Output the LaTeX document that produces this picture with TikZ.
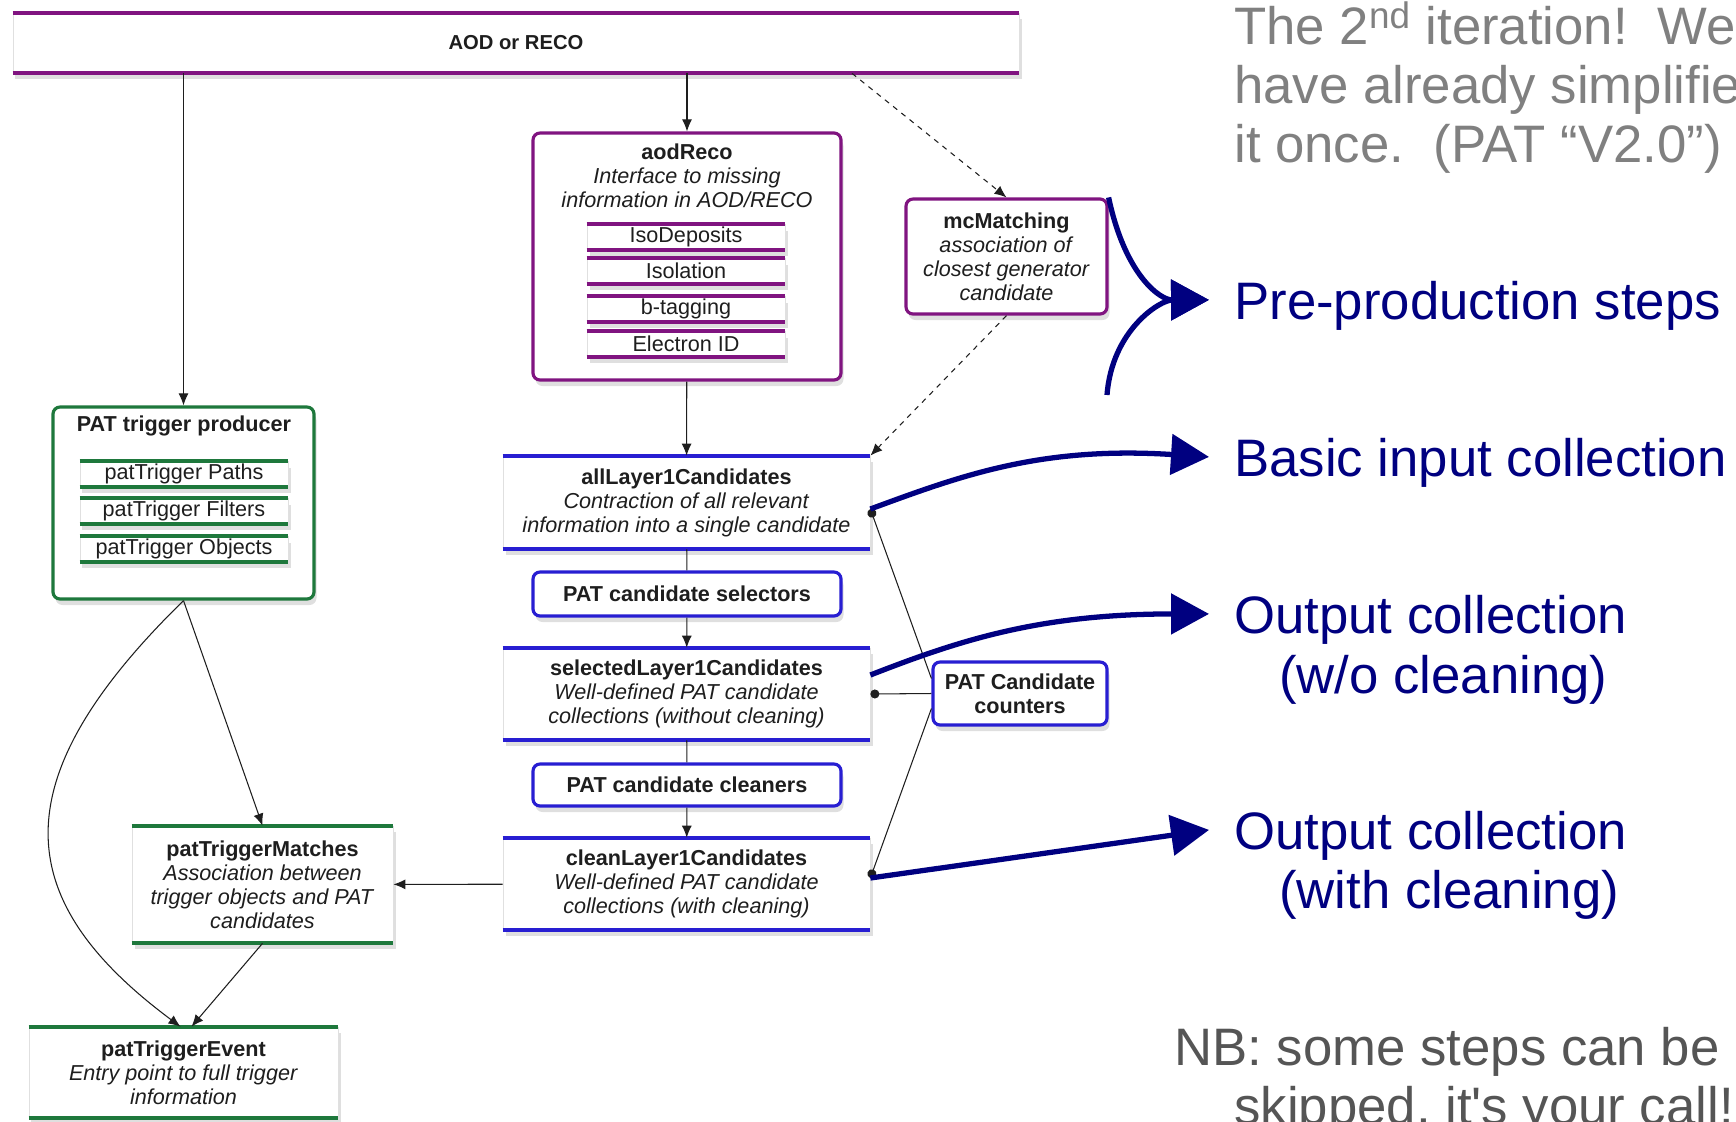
\documentclass[tikz,border=0pt]{standalone}
\usepackage{fontspec}
\setmainfont{Liberation Sans}
\usepackage{tikz}
\usetikzlibrary{arrows.meta,positioning,calc,shadows}
\definecolor{aodPurple}{RGB}{128,20,128}
\definecolor{trigGreen}{RGB}{30,120,60}
\definecolor{candBlue}{RGB}{40,30,210}
\definecolor{noteNavy}{RGB}{0,0,128}
\definecolor{noteGray}{RGB}{128,128,128}
\definecolor{nbGray}{RGB}{85,85,85}
\definecolor{boxInk}{RGB}{30,30,30}
\tikzset{
  box font/.style={font=\fontsize{12.3}{13.6}\selectfont,align=center,text=boxInk},
  soft shadow/.style={drop shadow={shadow xshift=0.5mm,shadow yshift=-1.2mm,opacity=0.25}},
  bar box/.style={box font,fill=white,draw=black!12,inner sep=0pt,soft shadow,
    append after command={(\tikzlastnode.north west) edge[draw=#1,line width=2.3pt] (\tikzlastnode.north east)
      (\tikzlastnode.south west) edge[draw=#1,line width=2.3pt] (\tikzlastnode.south east)}},
  sub box/.style={bar box=#1,minimum height=5mm},
  round box/.style={box font,fill=white,draw=#1,line width=1.8pt,rounded corners=4pt,soft shadow},
  flow line/.style={draw=boxInk,line width=0.6pt},
  flow arrow/.style={flow line,-{Latex[length=2.4mm,width=2mm]}},
  flow dashed/.style={flow arrow,dashed},
  count line/.style={flow line,{Circle[length=1.8mm]}-},
  note arrow/.style={draw=noteNavy,line width=3pt,-{Triangle[length=7.6mm,width=8mm]}},
  note text/.style={font=\fontsize{30}{34}\selectfont,inner sep=0pt,anchor=base west},
  note label/.style={note text,text=noteNavy,inner xsep=5mm,text depth=0pt}
}

\begin{document}
\begin{tikzpicture}[x=0.2mm,y=-0.2mm]
  \useasboundingbox (0,0) rectangle (1736,1121);
  \clip (0,0) rectangle (1736,1121);

  % input and pre-production steps
  \node[bar box=aodPurple,minimum width=201.2mm,minimum height=12mm,font=\fontsize{11.5}{13.5}\selectfont\bfseries] (aod) at (516,43) {AOD or RECO};
  \node[round box=aodPurple,minimum width=61.6mm,minimum height=49.4mm] (aodreco) at (687,256.5) {};
  \node[box font] (aodrecotxt) at (687,176) {\textbf{aodReco}\\\textit{Interface to missing}\\\textit{information in AOD/RECO}};
  \node[sub box=aodPurple,minimum width=39.6mm] (isodeposits) at (686,237) {IsoDeposits};
  \node[sub box=aodPurple,minimum width=39.6mm] (isolation) at (686,271) {Isolation};
  \node[sub box=aodPurple,minimum width=39.6mm] (btagging) at (686,309) {b-tagging};
  \node[sub box=aodPurple,minimum width=39.6mm] (electronid) at (686,344) {Electron ID};
  \node[round box=aodPurple,minimum width=40.2mm,minimum height=23mm] (mc) at (1006.5,256.5) {\textbf{mcMatching}\\\textit{association of}\\\textit{closest generator}\\\textit{candidate}};

  % trigger branch
  \node[round box=trigGreen,minimum width=52.2mm,minimum height=38.4mm] (trigger) at (183.5,503) {};
  \node[box font] (triggertxt) at (184,426) {\textbf{PAT trigger producer}};
  \node[sub box=trigGreen,minimum width=41.6mm] (trigpaths) at (184,474) {patTrigger Paths};
  \node[sub box=trigGreen,minimum width=41.6mm] (trigfilters) at (184,511) {patTrigger Filters};
  \node[sub box=trigGreen,minimum width=41.6mm] (trigobjects) at (184,549) {patTrigger Objects};
  \node[bar box=trigGreen,minimum width=52.2mm,minimum height=23.4mm] (matches) at (262.5,884.5) {\textbf{patTriggerMatches}\\\textit{Association between}\\\textit{trigger objects and PAT}\\\textit{candidates}};
  \node[bar box=trigGreen,minimum width=61.8mm,minimum height=18.2mm] (event) at (183.5,1072.5) {\textbf{patTriggerEvent}\\\textit{Entry point to full trigger}\\\textit{information}};

  % candidate chain
  \node[bar box=candBlue,minimum width=73.4mm,minimum height=18.6mm] (all) at (686.5,502.5) {\textbf{allLayer1Candidates}\\\textit{Contraction of all relevant}\\\textit{information into a single candidate}};
  \node[round box=candBlue,minimum width=61.6mm,minimum height=8.8mm] (selectors) at (687,594) {\textbf{PAT candidate selectors}};
  \node[bar box=candBlue,minimum width=73.4mm,minimum height=18.4mm] (selected) at (686.5,694) {\textbf{selectedLayer1Candidates}\\\textit{Well-defined PAT candidate}\\\textit{collections (without cleaning)}};
  \node[round box=candBlue,minimum width=61.6mm,minimum height=8.4mm] (cleaners) at (687,785) {\textbf{PAT candidate cleaners}};
  \node[bar box=candBlue,minimum width=73.4mm,minimum height=18.4mm] (clean) at (686.5,884) {\textbf{cleanLayer1Candidates}\\\textit{Well-defined PAT candidate}\\\textit{collections (with cleaning)}};
  \node[round box=candBlue,minimum width=34.8mm,minimum height=12.6mm] (counters) at (1020,693.5) {\textbf{PAT Candidate}\\\textbf{counters}};

  \draw[flow arrow] (aod.south -| trigger.north) -- (trigger.north);
  \draw[flow arrow] (aod.south -| aodreco.north) -- (aodreco.north);
  \draw[flow dashed] ([xshift=67.2mm]aod.south) -- (mc.north);
  \draw[flow arrow] (aodreco) -- (all);
  \draw[flow dashed] (mc.south) -- (all.north east);
  \draw[flow line] (all) -- (selectors);
  \draw[flow arrow] (selectors) -- (selected);
  \draw[flow line] (selected) -- (cleaners);
  \draw[flow arrow] (cleaners) -- (clean);
  \draw[flow arrow] (clean) -- (matches);
  \draw[flow arrow] (trigger.south) -- (matches.north);
  \draw[flow arrow] (trigger.south) .. controls (0,780) and (10,900) .. ([xshift=-0.6mm]event.north);
  \draw[flow arrow] (matches.south) -- ([xshift=1.6mm]event.north);

  \coordinate (alldot) at ([yshift=-1.3mm]all.east);
  \coordinate (cleandot) at ([yshift=1.2mm]clean.east);
  \draw[count line] (alldot) -- ([yshift=3mm]counters.west);
  \draw[count line] (selected.east) -- (counters.west);
  \draw[count line] (cleandot) -- ([yshift=-3mm]counters.west);

  % notes on the right
  \node[note text,text=noteGray] (iter1) at (1234,44) {The 2\textsuperscript{nd} iteration!\ \ We};
  \node[note text,text=noteGray] (iter2) at (1234,103) {have already simplified};
  \node[note text,text=noteGray] (iter3) at (1234,162) {it once.\ \ (PAT “V2.0”)};
  \node[note label] (preprod) at (1209,319) {Pre-production steps};
  \node[note label] (basic) at (1209,476) {Basic input collection};
  \node[note label] (outwo) at (1209,633) {Output collection};
  \node[note text,text=noteNavy] (outwo2) at (1279,693) {(w/o cleaning)};
  \node[note label] (outwith) at (1209,849) {Output collection};
  \node[note text,text=noteNavy] (outwith2) at (1279,908) {(with cleaning)};
  \node[note text,text=nbGray] (nb1) at (1174,1065) {NB: some steps can be};
  \node[note text,text=nbGray] (nb2) at (1234,1124) {skipped, it\textquotesingle s your call!};

  \coordinate (ppbottom) at (1107,395);
  \draw[note arrow] (mc.north east) .. controls (1125,275) and (1160,300) .. (preprod.west);
  \draw[note arrow] (ppbottom) .. controls (1112,330) and (1160,300) .. (preprod.west);
  \draw[note arrow] (alldot) .. controls (960,476) and (1040,446) .. (basic.west);
  \draw[note arrow] ([yshift=3.8mm]selected.east) .. controls (960,640) and (1040,614) .. (outwo.west);
  \draw[note arrow] (cleandot) -- (outwith.west);
\end{tikzpicture}
\end{document}
